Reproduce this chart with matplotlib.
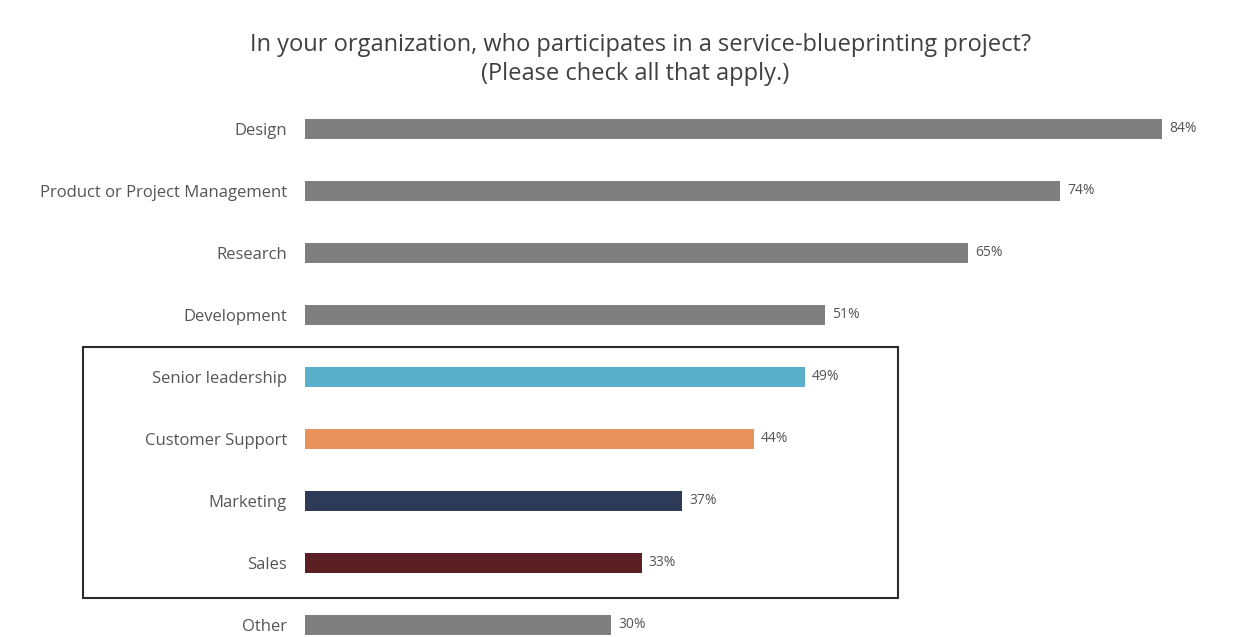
import matplotlib
matplotlib.use("Agg")
import matplotlib.pyplot as plt
from matplotlib.patches import Rectangle

categories = ["Design", "Product or Project Management", "Research", "Development",
              "Senior leadership", "Customer Support", "Marketing", "Sales", "Other"]
values = [84, 74, 65, 51, 49, 44, 37, 33, 30]
colors = ["#7f7f7f", "#7f7f7f", "#7f7f7f", "#7f7f7f",
          "#5aafca", "#e8935c", "#2d3a58", "#5b1f24", "#7f7f7f"]
title_lines = ["In your organization, who participates in a service-blueprinting project?",
               "(Please check all that apply.)"]

plt.rcParams["font.family"] = ["Open Sans", "DejaVu Sans"]

W, H = 1233, 637
fig = plt.figure(figsize=(W / 100, H / 100), dpi=100)
fig.patch.set_facecolor("white")

# axes spans from the bar baseline to the right edge, full height
ax = fig.add_axes([305 / W, 0, 1 - 305 / W, 1])
px_per_unit = 10.2
ax.set_xlim(0, (W - 305) / px_per_unit)
first, step = 129, 62
ax.set_ylim((H - first) / step, -first / step)

ypos = list(range(len(categories)))
ax.barh(ypos, values, height=0.32, color=colors)
for y, v in zip(ypos, values):
    ax.text(v + 0.7, y, f"{v}%", va="center", ha="left", fontsize=10, color="#555555")
ax.set_yticks(ypos)
ax.set_yticklabels(categories, fontsize=12, color="#555555")
ax.tick_params(axis="y", length=0, pad=13)
ax.set_xticks([])
for s in ax.spines.values():
    s.set_visible(False)

fig.text(641 / W, 1 - 45 / H, title_lines[0], ha="center", va="center",
         fontsize=17, color="#404040")
fig.text(635 / W, 1 - 74 / H, title_lines[1], ha="center", va="center",
         fontsize=17, color="#404040")

# outline around the highlighted group
box = Rectangle((83 / W, 1 - 598 / H), (898 - 83) / W, (598 - 347) / H,
                transform=fig.transFigure, fill=False, edgecolor="#2b2b2b",
                linewidth=1.5)
fig.patches.append(box)

fig.savefig("out.png", dpi=100, facecolor="white")
